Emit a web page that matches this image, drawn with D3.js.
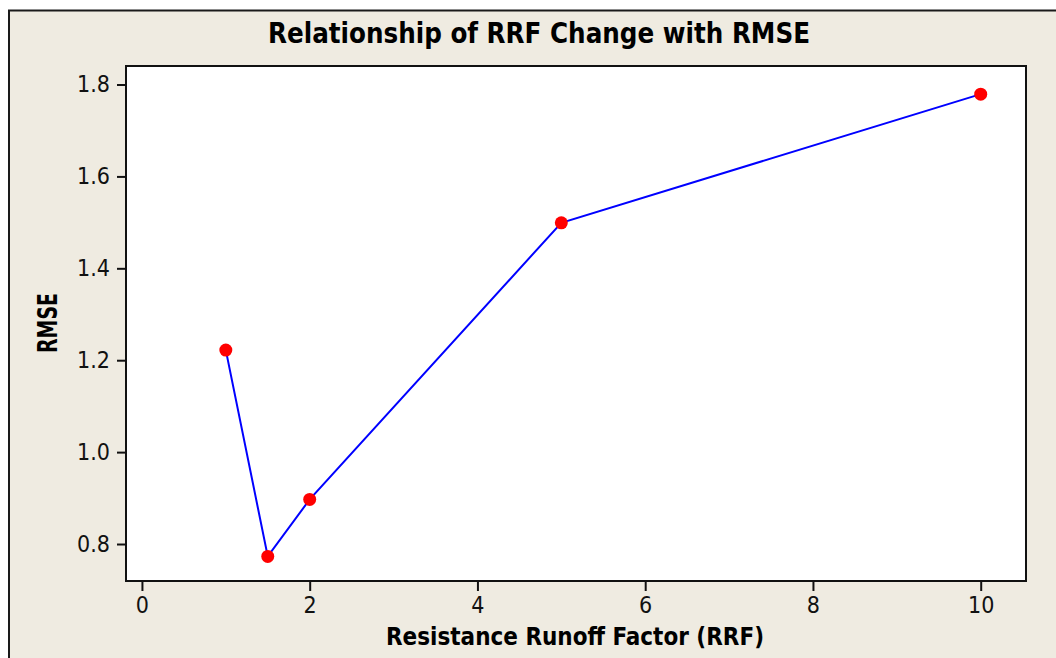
<!DOCTYPE html>
<html>
<head>
<meta charset="utf-8">
<script src="https://cdn.jsdelivr.net/npm/d3@7"></script>
<style>
  html, body { margin: 0; padding: 0; background: #fff; }
  svg { display: block; }
</style>
</head>
<body>
<div id="chart"></div>
<script>
// data
var rrf = [1, 1.5, 2, 5, 10];
var rmse = [1.222, 0.773, 0.897, 1.499, 1.779];
var xTicks = [0, 2, 4, 6, 8, 10];
var yTicks = [0.8, 1.0, 1.2, 1.4, 1.6, 1.8];

var W = 1056, H = 658;
// plot box
var box = { left: 126, top: 66, right: 1026, bottom: 581 };

var svg = d3.select("#chart")
    .append("svg")
    .attr("width", W)
    .attr("height", H);

// outer beige frame
svg.append("rect")
    .attr("x", 9).attr("y", 10.5)
    .attr("width", W + 20).attr("height", H + 20)
    .attr("fill", "#efebe1")
    .attr("stroke", "#1a1a1a")
    .attr("stroke-width", 2);

var x = d3.scaleLinear()
    .domain([-0.19, 10.54])
    .range([box.left, box.right]);

var y = d3.scaleLinear()
    .domain([0.7195, 1.8403])
    .range([box.bottom, box.top]);

// plot area
svg.append("rect")
    .attr("x", box.left).attr("y", box.top)
    .attr("width", box.right - box.left)
    .attr("height", box.bottom - box.top)
    .attr("fill", "#fff")
    .attr("stroke", "#111")
    .attr("stroke-width", 2);

var tickFont = "'DejaVu Sans Condensed', 'DejaVu Sans', sans-serif";

var xAxis = svg.append("g")
    .attr("transform", `translate(0, ${box.bottom})`)
    .call(d3.axisBottom(x).tickValues(xTicks).tickSize(10).tickPadding(6).tickFormat(d3.format("d")));
xAxis.select(".domain").remove();
xAxis.selectAll(".tick line").attr("stroke", "#111").attr("stroke-width", 2);
xAxis.selectAll(".tick text")
    .attr("fill", "#111")
    .style("font-family", tickFont)
    .style("font-stretch", "condensed")
    .style("font-size", "23px");

var yAxis = svg.append("g")
    .attr("transform", `translate(${box.left}, 0)`)
    .call(d3.axisLeft(y).tickValues(yTicks).tickSize(9).tickPadding(7).tickFormat(d3.format(".1f")));
yAxis.select(".domain").remove();
yAxis.selectAll(".tick line").attr("stroke", "#111").attr("stroke-width", 2);
yAxis.selectAll(".tick text")
    .attr("fill", "#111")
    .style("font-family", tickFont)
    .style("font-stretch", "condensed")
    .style("font-size", "23px");

// line + markers
var pts = rrf.map(function (d, i) { return [d, rmse[i]]; });

svg.append("path")
    .datum(pts)
    .attr("fill", "none")
    .attr("stroke", "#0000ff")
    .attr("stroke-width", 2)
    .attr("d", d3.line().x(d => x(d[0])).y(d => y(d[1])));

svg.selectAll("circle.pt")
    .data(pts)
    .enter().append("circle")
    .attr("class", "pt")
    .attr("cx", d => x(d[0]))
    .attr("cy", d => y(d[1]))
    .attr("r", 6.5)
    .attr("fill", "#ff0000");

// titles
svg.append("text")
    .attr("x", 539).attr("y", 43)
    .attr("text-anchor", "middle")
    .attr("textLength", 542)
    .attr("lengthAdjust", "spacingAndGlyphs")
    .style("font-family", tickFont)
    .style("font-stretch", "condensed")
    .style("font-weight", "bold")
    .style("font-size", "28px")
    .attr("fill", "#000")
    .text("Relationship of RRF Change with RMSE");

svg.append("text")
    .attr("x", 575).attr("y", 645)
    .attr("text-anchor", "middle")
    .attr("textLength", 378)
    .attr("lengthAdjust", "spacingAndGlyphs")
    .style("font-family", tickFont)
    .style("font-stretch", "condensed")
    .style("font-weight", "bold")
    .style("font-size", "24px")
    .attr("fill", "#000")
    .text("Resistance Runoff Factor (RRF)");

svg.append("text")
    .attr("transform", "translate(56.5, 323) rotate(-90)")
    .attr("text-anchor", "middle")
    .attr("textLength", 60)
    .attr("lengthAdjust", "spacingAndGlyphs")
    .style("font-family", tickFont)
    .style("font-stretch", "condensed")
    .style("font-weight", "bold")
    .style("font-size", "26px")
    .attr("fill", "#000")
    .text("RMSE");
</script>
</body>
</html>
